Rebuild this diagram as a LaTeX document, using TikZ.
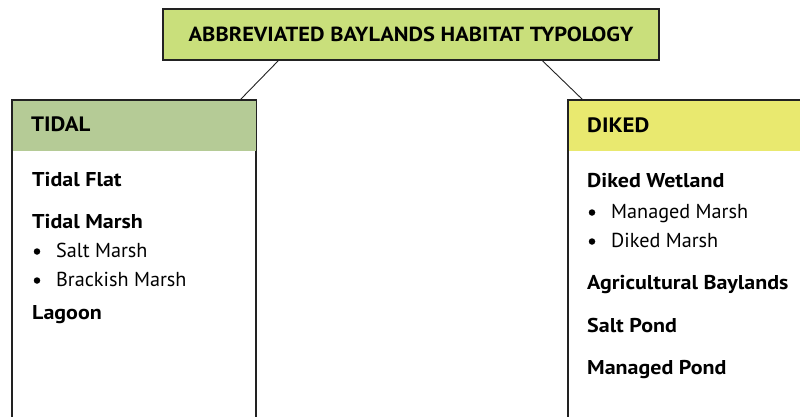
\documentclass[tikz,border=0pt]{standalone}
\usepackage{fontspec}
\setmainfont{PT Sans}[BoldFeatures={FakeStretch=1.1}]
\usetikzlibrary{calc}
\definecolor{titlegreen}{HTML}{C9DF7B}
\definecolor{tidalgreen}{HTML}{B5CB96}
\definecolor{dikedyellow}{HTML}{E9E96F}
\definecolor{edge}{HTML}{222222}
\begin{document}
\begin{tikzpicture}[x=1pt,y=-1pt,
  frame/.style={draw=edge, line width=1.3pt},
  txt/.style={anchor=base west, inner sep=0pt, text=black},
  head/.style={txt, font=\bfseries\fontsize{20.8}{24}\selectfont},
  item/.style={txt, font=\bfseries\fontsize{20}{24}\selectfont},
  sub/.style={txt, font=\fontsize{20.2}{24}\selectfont},
  dot/.style={circle, fill=black, inner sep=0pt, minimum size=6.5pt},
  link/.style={draw=edge, line width=0.9pt}]
\useasboundingbox (0,0) rectangle (800,416);
\clip (0,0) rectangle (800,416);
% title
\node[frame, fill=titlegreen, minimum width=496pt, minimum height=51pt, inner sep=0pt,
      font=\bfseries\fontsize{20.4}{24}\selectfont] (title) at (411,34.5) {ABBREVIATED BAYLANDS HABITAT TYPOLOGY};
% tidal box
\node[frame, fill=white, minimum width=243pt, minimum height=340pt, inner sep=0pt, anchor=north west] (tidal) at (12,100) {};
\fill[tidalgreen] ($(tidal.north west)+(0.65,0.65)$) rectangle ($(tidal.north east)+(-0.65,51)$);
\draw[frame] (tidal.north west) rectangle (tidal.south east);
% diked box
\node[frame, fill=white, minimum width=260pt, minimum height=340pt, inner sep=0pt, anchor=north west] (diked) at (568,100) {};
\fill[dikedyellow] ($(diked.north west)+(0.65,0.65)$) rectangle ($(diked.north east)+(-0.65,51)$);
\draw[frame] (diked.north west) rectangle (diked.south east);
% connectors
\coordinate (tl) at ($(title.south west)+(116,0)$);
\coordinate (tr) at ($(title.south west)+(380,0)$);
\coordinate (bl) at ($(tidal.north west)+(228,0)$);
\coordinate (br) at ($(diked.north west)+(15,0)$);
\draw[link] (tl) -- (bl);
\draw[link] (tr) -- (br);
% tidal texts
\node[head] (tidalhead) at (31,131.5) {TIDAL};
\node[item] (tflat) at (32,186) {Tidal Flat};
\node[item] (tmarsh) at (32,228) {Tidal Marsh};
\node[dot] (b1) at (37,251.5) {};
\node[sub] (salt) at (56,257) {Salt Marsh};
\node[dot] (b2) at (37,280.5) {};
\node[sub] (brack) at (56,286) {Brackish Marsh};
\node[item] (lagoon) at (32,319) {Lagoon};
% diked texts
\node[head] (dikedhead) at (587,132) {DIKED};
\node[item] (dwet) at (587,187) {Diked Wetland};
\node[dot] (b3) at (592,212.5) {};
\node[sub] (mmarsh) at (611,218) {Managed Marsh};
\node[dot] (b4) at (592,241.5) {};
\node[sub] (dmarsh) at (611,247) {Diked Marsh};
\node[item] (agri) at (587,289) {Agricultural Baylands};
\node[item] (spond) at (587,332) {Salt Pond};
\node[item] (mpond) at (587,374) {Managed Pond};
\end{tikzpicture}
\end{document}
